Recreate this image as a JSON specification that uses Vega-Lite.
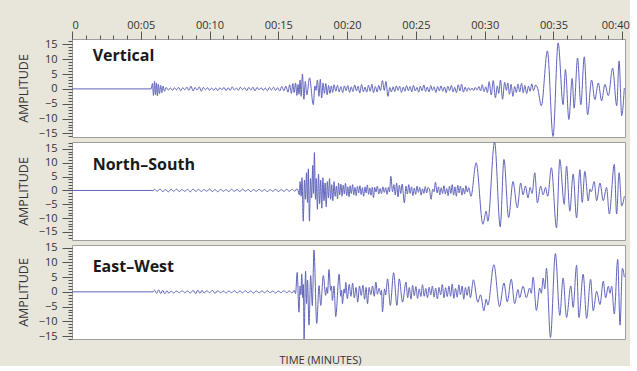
{
"$schema": "https://vega.github.io/schema/vega-lite/v6.json",
"background": "#e8e5da",
"padding": {"left": 16, "top": 18, "right": 0, "bottom": 0},
"config": {
  "view": {"stroke": "#9e9e9e", "fill": "white"},
  "font": "Open Sans",
  "axis": {"labelFont": "Open Sans", "titleFont": "Open Sans", "labelColor": "#333333", "titleColor": "#333333", "tickColor": "#555555", "grid": false, "domain": false}
},
"datasets": {
"vert": [
{"t":0,"a":0},{"t":5.75,"a":0},{"t":5.85,"a":1.8},{"t":5.92,"a":-2.2},{"t":6.0,"a":2.5},{"t":6.07,"a":-1.9},{"t":6.14,"a":2.0},{"t":6.21,"a":-2.4},{"t":6.28,"a":1.5},{"t":6.36,"a":-1.6},{"t":6.45,"a":1.2},{"t":6.53,"a":-1.3},{"t":6.62,"a":0.9},{"t":6.72,"a":-0.8},{"t":6.85,"a":0.5},{"t":7.0,"a":-0.4},{"t":7.15,"a":0.3},{"t":7.3,"a":-0.5},{"t":7.45,"a":0.4},{"t":7.6,"a":-0.3},{"t":7.75,"a":0.5},{"t":7.9,"a":-0.6},{"t":8.05,"a":0.4},{"t":8.2,"a":-0.3},{"t":8.35,"a":0.6},{"t":8.5,"a":-0.5},{"t":8.65,"a":0.9},{"t":8.8,"a":-0.7},{"t":8.95,"a":0.5},{"t":9.1,"a":-0.4},{"t":9.25,"a":0.7},{"t":9.4,"a":-0.8},{"t":9.55,"a":0.5},{"t":9.7,"a":-0.3},{"t":9.85,"a":0.4},{"t":10.0,"a":-0.5},{"t":10.15,"a":0.3},{"t":10.3,"a":-0.4},{"t":10.45,"a":0.3},{"t":10.6,"a":-0.6},{"t":10.75,"a":0.4},{"t":10.9,"a":-0.3},{"t":11.05,"a":0.5},{"t":11.2,"a":-0.6},{"t":11.35,"a":0.4},{"t":11.5,"a":-0.5},{"t":11.65,"a":0.7},{"t":11.8,"a":-0.4},{"t":11.95,"a":0.3},{"t":12.1,"a":-0.5},{"t":12.25,"a":0.6},{"t":12.4,"a":-0.3},{"t":12.55,"a":0.4},{"t":12.7,"a":-0.6},{"t":12.85,"a":0.5},{"t":13.0,"a":-0.4},{"t":13.15,"a":0.6},{"t":13.3,"a":-0.7},{"t":13.45,"a":0.5},{"t":13.6,"a":-0.3},{"t":13.75,"a":0.4},{"t":13.9,"a":-0.5},{"t":14.05,"a":0.3},{"t":14.2,"a":-0.6},{"t":14.35,"a":0.5},{"t":14.5,"a":-0.4},{"t":14.65,"a":0.6},{"t":14.8,"a":-0.5},{"t":14.95,"a":0.4},{"t":15.1,"a":-0.7},{"t":15.25,"a":0.8},{"t":15.4,"a":-0.6},{"t":15.55,"a":0.9},{"t":15.7,"a":-1.1},{"t":15.82,"a":1.4},{"t":15.95,"a":-1.5},{"t":16.05,"a":1.8},{"t":16.15,"a":-1.2},{"t":16.25,"a":2.0},{"t":16.35,"a":-2.2},{"t":16.43,"a":1.5},{"t":16.5,"a":-1.8},{"t":16.58,"a":3.0},{"t":16.66,"a":-2.5},{"t":16.75,"a":5.0},{"t":16.86,"a":-3.5},{"t":16.96,"a":2.5},{"t":17.07,"a":-2.0},{"t":17.27,"a":3.7},{"t":17.54,"a":-5.3},{"t":17.66,"a":1.0},{"t":17.74,"a":-0.5},{"t":17.84,"a":3.0},{"t":17.95,"a":-2.5},{"t":18.05,"a":3.2},{"t":18.15,"a":-3.0},{"t":18.25,"a":2.0},{"t":18.35,"a":-1.5},{"t":18.45,"a":1.8},{"t":18.55,"a":-2.0},{"t":18.65,"a":1.2},{"t":18.75,"a":-1.5},{"t":18.85,"a":1.0},{"t":18.95,"a":-1.2},{"t":19.05,"a":1.4},{"t":19.18,"a":-0.8},{"t":19.3,"a":1.2},{"t":19.42,"a":-1.0},{"t":19.55,"a":0.8},{"t":19.68,"a":-1.3},{"t":19.8,"a":1.0},{"t":19.92,"a":-0.6},{"t":20.05,"a":1.1},{"t":20.18,"a":-1.2},{"t":20.3,"a":0.7},{"t":20.42,"a":-0.9},{"t":20.55,"a":1.3},{"t":20.68,"a":-0.7},{"t":20.8,"a":0.9},{"t":20.92,"a":-1.4},{"t":21.05,"a":1.5},{"t":21.18,"a":-1.0},{"t":21.3,"a":0.6},{"t":21.42,"a":-1.1},{"t":21.55,"a":1.2},{"t":21.68,"a":-0.8},{"t":21.8,"a":1.6},{"t":21.92,"a":-1.3},{"t":22.05,"a":0.8},{"t":22.18,"a":-1.0},{"t":22.3,"a":1.2},{"t":22.42,"a":-0.6},{"t":22.57,"a":2.8},{"t":22.7,"a":-0.5},{"t":22.82,"a":2.5},{"t":22.97,"a":-2.5},{"t":23.1,"a":0.5},{"t":23.22,"a":-1.0},{"t":23.34,"a":0.7},{"t":23.46,"a":-0.9},{"t":23.58,"a":1.0},{"t":23.7,"a":-0.5},{"t":23.82,"a":0.9},{"t":23.95,"a":-1.2},{"t":24.08,"a":0.6},{"t":24.2,"a":-0.8},{"t":24.32,"a":1.1},{"t":24.45,"a":-0.6},{"t":24.58,"a":0.8},{"t":24.7,"a":-1.0},{"t":24.82,"a":1.2},{"t":24.95,"a":-0.7},{"t":25.08,"a":0.5},{"t":25.2,"a":-1.1},{"t":25.32,"a":0.9},{"t":25.45,"a":-0.6},{"t":25.58,"a":1.3},{"t":25.7,"a":-0.9},{"t":25.82,"a":0.6},{"t":25.95,"a":-1.0},{"t":26.08,"a":1.1},{"t":26.2,"a":-0.5},{"t":26.32,"a":0.7},{"t":26.45,"a":-1.2},{"t":26.58,"a":0.8},{"t":26.7,"a":-0.6},{"t":26.82,"a":1.0},{"t":26.95,"a":-0.8},{"t":27.08,"a":0.6},{"t":27.2,"a":-1.3},{"t":27.32,"a":0.9},{"t":27.45,"a":-0.6},{"t":27.58,"a":1.2},{"t":27.7,"a":-1.0},{"t":27.82,"a":0.5},{"t":27.95,"a":-1.3},{"t":28.08,"a":1.4},{"t":28.2,"a":-0.7},{"t":28.32,"a":1.6},{"t":28.45,"a":-1.1},{"t":28.58,"a":0.6},{"t":28.7,"a":-0.8},{"t":28.82,"a":0.4},{"t":28.95,"a":-0.5},{"t":29.08,"a":0.3},{"t":29.2,"a":-0.6},{"t":29.32,"a":0.5},{"t":29.45,"a":-0.4},{"t":29.58,"a":0.8},{"t":29.7,"a":-0.7},{"t":29.82,"a":1.4},{"t":29.95,"a":-0.9},{"t":30.08,"a":0.7},{"t":30.2,"a":-1.2},{"t":30.32,"a":2.4},{"t":30.48,"a":-2.0},{"t":30.62,"a":2.8},{"t":30.78,"a":-3.0},{"t":30.92,"a":1.0},{"t":31.02,"a":-1.5},{"t":31.15,"a":3.0},{"t":31.3,"a":-3.5},{"t":31.45,"a":2.2},{"t":31.58,"a":-0.5},{"t":31.68,"a":2.0},{"t":31.8,"a":-1.8},{"t":31.92,"a":1.5},{"t":32.05,"a":-2.5},{"t":32.18,"a":0.8},{"t":32.3,"a":-1.2},{"t":32.42,"a":1.6},{"t":32.55,"a":-1.0},{"t":32.68,"a":1.9},{"t":32.8,"a":-1.3},{"t":32.92,"a":1.2},{"t":33.05,"a":-1.6},{"t":33.18,"a":0.9},{"t":33.3,"a":-0.8},{"t":33.42,"a":1.7},{"t":33.55,"a":-0.6},{"t":33.7,"a":1.3},{"t":33.85,"a":0.2},{"t":34.12,"a":-5.7},{"t":34.56,"a":12.8},{"t":34.97,"a":-16.0},{"t":35.34,"a":15.5},{"t":35.7,"a":-5.3},{"t":35.87,"a":6.5},{"t":36.12,"a":-10.3},{"t":36.36,"a":3.5},{"t":36.5,"a":-6.5},{"t":36.75,"a":10.4},{"t":36.99,"a":-5.3},{"t":37.24,"a":10.8},{"t":37.48,"a":-8.7},{"t":37.77,"a":3.0},{"t":38.01,"a":-3.6},{"t":38.26,"a":2.0},{"t":38.5,"a":-4.0},{"t":38.74,"a":1.5},{"t":38.99,"a":-2.3},{"t":39.3,"a":7.0},{"t":39.6,"a":-5.7},{"t":39.77,"a":9.4},{"t":39.96,"a":-9.0},{"t":40.15,"a":0.3}
],
"ns": [
{"t":0,"a":0},{"t":5.9,"a":0},{"t":6.0,"a":0.4},{"t":6.2,"a":-0.3},{"t":6.4,"a":0.5},{"t":6.6,"a":-0.4},{"t":6.8,"a":0.3},{"t":7.0,"a":-0.5},{"t":7.2,"a":0.4},{"t":7.4,"a":-0.3},{"t":7.6,"a":0.5},{"t":7.8,"a":-0.4},{"t":8.0,"a":0.3},{"t":8.2,"a":-0.3},{"t":8.4,"a":0.4},{"t":8.6,"a":-0.5},{"t":8.8,"a":0.5},{"t":9.0,"a":-0.3},{"t":9.2,"a":0.4},{"t":9.4,"a":-0.4},{"t":9.6,"a":0.3},{"t":9.8,"a":-0.3},{"t":10.0,"a":0.5},{"t":10.2,"a":-0.4},{"t":10.4,"a":0.3},{"t":10.6,"a":-0.5},{"t":10.8,"a":0.4},{"t":11.0,"a":-0.3},{"t":11.2,"a":0.3},{"t":11.4,"a":-0.4},{"t":11.6,"a":0.4},{"t":11.8,"a":-0.3},{"t":12.0,"a":0.3},{"t":12.2,"a":-0.4},{"t":12.4,"a":0.5},{"t":12.6,"a":-0.3},{"t":12.8,"a":0.3},{"t":13.0,"a":-0.4},{"t":13.2,"a":0.3},{"t":13.4,"a":-0.3},{"t":13.6,"a":0.4},{"t":13.8,"a":-0.3},{"t":14.0,"a":0.3},{"t":14.2,"a":-0.4},{"t":14.4,"a":0.3},{"t":14.6,"a":-0.3},{"t":14.8,"a":0.4},{"t":15.0,"a":-0.4},{"t":15.2,"a":0.3},{"t":15.4,"a":-0.3},{"t":15.6,"a":0.4},{"t":15.8,"a":-0.3},{"t":16.0,"a":0.4},{"t":16.2,"a":-0.3},{"t":16.35,"a":0.6},{"t":16.45,"a":-0.2},{"t":16.52,"a":-1.6},{"t":16.58,"a":3.2},{"t":16.66,"a":-2.1},{"t":16.72,"a":4.6},{"t":16.81,"a":-11.1},{"t":16.9,"a":3.7},{"t":16.97,"a":-3.2},{"t":17.05,"a":6.4},{"t":17.12,"a":-4.3},{"t":17.18,"a":7.8},{"t":17.26,"a":-11.1},{"t":17.34,"a":4.3},{"t":17.42,"a":-2.7},{"t":17.5,"a":9.0},{"t":17.56,"a":-1.1},{"t":17.62,"a":13.7},{"t":17.7,"a":-3.2},{"t":17.76,"a":4.3},{"t":17.84,"a":-6.8},{"t":17.92,"a":5.9},{"t":18.0,"a":-4.8},{"t":18.08,"a":3.7},{"t":18.16,"a":-6.4},{"t":18.24,"a":4.6},{"t":18.32,"a":-3.7},{"t":18.4,"a":2.7},{"t":18.48,"a":-5.9},{"t":18.56,"a":3.2},{"t":18.64,"a":-2.7},{"t":18.72,"a":4.3},{"t":18.8,"a":-3.2},{"t":18.88,"a":2.1},{"t":18.96,"a":-3.7},{"t":19.05,"a":3.2},{"t":19.13,"a":-2.1},{"t":19.22,"a":1.6},{"t":19.3,"a":-3.0},{"t":19.38,"a":2.7},{"t":19.46,"a":-1.6},{"t":19.55,"a":2.3},{"t":19.63,"a":-2.1},{"t":19.72,"a":1.9},{"t":19.8,"a":-1.3},{"t":19.88,"a":2.6},{"t":19.97,"a":-1.9},{"t":20.05,"a":1.3},{"t":20.14,"a":-2.3},{"t":20.22,"a":1.7},{"t":20.3,"a":-1.1},{"t":20.4,"a":2.1},{"t":20.48,"a":-1.6},{"t":20.57,"a":1.1},{"t":20.66,"a":-1.9},{"t":20.75,"a":1.5},{"t":20.84,"a":-0.9},{"t":20.93,"a":1.7},{"t":21.02,"a":-1.5},{"t":21.11,"a":1.0},{"t":21.2,"a":-2.1},{"t":21.3,"a":1.3},{"t":21.38,"a":-0.9},{"t":21.47,"a":2.0},{"t":21.56,"a":-1.4},{"t":21.65,"a":0.9},{"t":21.74,"a":-1.7},{"t":21.83,"a":1.2},{"t":21.92,"a":-2.6},{"t":22.01,"a":1.1},{"t":22.1,"a":-0.6},{"t":22.2,"a":1.6},{"t":22.3,"a":-1.3},{"t":22.4,"a":0.7},{"t":22.5,"a":-1.1},{"t":22.6,"a":1.3},{"t":22.7,"a":-0.7},{"t":22.8,"a":1.0},{"t":22.9,"a":-1.4},{"t":23.0,"a":1.1},{"t":23.08,"a":-0.5},{"t":23.18,"a":5.1},{"t":23.3,"a":-0.5},{"t":23.4,"a":2.1},{"t":23.5,"a":-1.6},{"t":23.6,"a":2.7},{"t":23.7,"a":-2.3},{"t":23.8,"a":1.9},{"t":23.9,"a":-1.1},{"t":24.0,"a":2.3},{"t":24.16,"a":-4.5},{"t":24.28,"a":1.6},{"t":24.38,"a":-1.3},{"t":24.48,"a":2.1},{"t":24.58,"a":-1.1},{"t":24.68,"a":1.3},{"t":24.78,"a":-1.9},{"t":24.88,"a":0.9},{"t":24.98,"a":-1.4},{"t":25.08,"a":1.6},{"t":25.18,"a":-0.7},{"t":25.28,"a":1.1},{"t":25.38,"a":-1.7},{"t":25.48,"a":0.6},{"t":25.58,"a":-1.1},{"t":25.68,"a":1.4},{"t":25.78,"a":-0.9},{"t":25.88,"a":1.1},{"t":25.98,"a":0.5},{"t":26.1,"a":-3.2},{"t":26.22,"a":0.5},{"t":26.32,"a":-0.5},{"t":26.42,"a":3.0},{"t":26.54,"a":-0.9},{"t":26.64,"a":1.3},{"t":26.74,"a":-1.6},{"t":26.84,"a":1.0},{"t":26.94,"a":-1.1},{"t":27.04,"a":1.7},{"t":27.14,"a":-1.3},{"t":27.24,"a":0.7},{"t":27.34,"a":-1.9},{"t":27.44,"a":1.6},{"t":27.54,"a":-1.1},{"t":27.64,"a":2.1},{"t":27.74,"a":-1.7},{"t":27.84,"a":1.3},{"t":27.94,"a":-2.1},{"t":28.04,"a":1.9},{"t":28.14,"a":-0.9},{"t":28.24,"a":1.6},{"t":28.34,"a":-1.7},{"t":28.44,"a":0.9},{"t":28.54,"a":-1.3},{"t":28.64,"a":1.7},{"t":28.74,"a":-0.6},{"t":28.84,"a":1.0},{"t":29.0,"a":-2.1},{"t":29.38,"a":10.0},{"t":29.87,"a":-12.2},{"t":30.11,"a":-7.5},{"t":30.23,"a":-11.1},{"t":30.72,"a":17.5},{"t":31.13,"a":-13.1},{"t":31.4,"a":11.2},{"t":31.74,"a":-9.8},{"t":32.06,"a":3.2},{"t":32.37,"a":-6.3},{"t":32.62,"a":2.7},{"t":32.79,"a":-1.6},{"t":32.96,"a":1.6},{"t":33.15,"a":-2.7},{"t":33.3,"a":1.1},{"t":33.45,"a":-1.1},{"t":33.64,"a":6.4},{"t":33.83,"a":-4.5},{"t":34.07,"a":1.6},{"t":34.25,"a":-1.6},{"t":34.42,"a":1.1},{"t":34.58,"a":-2.1},{"t":34.85,"a":8.2},{"t":35.22,"a":-13.5},{"t":35.46,"a":11.2},{"t":35.78,"a":-5.0},{"t":35.95,"a":8.8},{"t":36.19,"a":-7.5},{"t":36.43,"a":5.9},{"t":36.68,"a":-9.9},{"t":36.92,"a":7.5},{"t":37.09,"a":-4.3},{"t":37.28,"a":6.9},{"t":37.53,"a":-3.8},{"t":37.65,"a":0.5},{"t":37.75,"a":-0.5},{"t":37.96,"a":3.2},{"t":38.14,"a":-3.7},{"t":38.38,"a":2.7},{"t":38.62,"a":-3.7},{"t":38.86,"a":1.1},{"t":39.06,"a":-8.5},{"t":39.42,"a":9.4},{"t":39.59,"a":-8.5},{"t":39.77,"a":6.4},{"t":39.96,"a":-5.6},{"t":40.15,"a":-2.1}
],
"ew": [
{"t":0,"a":0},{"t":5.9,"a":0},{"t":6.0,"a":0.6},{"t":6.15,"a":-0.5},{"t":6.3,"a":0.7},{"t":6.45,"a":-0.6},{"t":6.6,"a":0.5},{"t":6.75,"a":-0.7},{"t":6.9,"a":0.4},{"t":7.05,"a":-0.5},{"t":7.2,"a":0.3},{"t":7.4,"a":-0.4},{"t":7.6,"a":0.3},{"t":7.8,"a":-0.3},{"t":8.0,"a":0.4},{"t":8.2,"a":-0.3},{"t":8.4,"a":0.3},{"t":8.6,"a":-0.4},{"t":8.8,"a":0.5},{"t":9.0,"a":-0.6},{"t":9.15,"a":0.6},{"t":9.3,"a":-0.5},{"t":9.45,"a":0.5},{"t":9.6,"a":-0.4},{"t":9.8,"a":0.4},{"t":10.0,"a":-0.3},{"t":10.2,"a":0.5},{"t":10.4,"a":-0.5},{"t":10.6,"a":0.4},{"t":10.8,"a":-0.3},{"t":11.0,"a":0.3},{"t":11.2,"a":-0.4},{"t":11.4,"a":0.3},{"t":11.6,"a":-0.3},{"t":11.8,"a":0.4},{"t":12.0,"a":-0.4},{"t":12.2,"a":0.3},{"t":12.4,"a":-0.3},{"t":12.6,"a":0.4},{"t":12.8,"a":-0.3},{"t":13.0,"a":0.3},{"t":13.2,"a":-0.4},{"t":13.4,"a":0.3},{"t":13.6,"a":-0.3},{"t":13.8,"a":0.3},{"t":14.0,"a":-0.3},{"t":14.2,"a":0.4},{"t":14.4,"a":-0.3},{"t":14.6,"a":0.3},{"t":14.8,"a":-0.4},{"t":15.0,"a":0.3},{"t":15.2,"a":-0.3},{"t":15.4,"a":0.4},{"t":15.6,"a":-0.3},{"t":15.8,"a":0.3},{"t":16.0,"a":-0.4},{"t":16.15,"a":0.5},{"t":16.25,"a":-0.6},{"t":16.37,"a":6.6},{"t":16.5,"a":-6.9},{"t":16.58,"a":2.0},{"t":16.64,"a":-1.0},{"t":16.7,"a":6.0},{"t":16.78,"a":-2.0},{"t":16.82,"a":2.5},{"t":16.87,"a":-16.0},{"t":16.98,"a":7.0},{"t":17.05,"a":-4.0},{"t":17.12,"a":4.0},{"t":17.23,"a":-11.3},{"t":17.35,"a":5.5},{"t":17.47,"a":-4.7},{"t":17.59,"a":14.2},{"t":17.79,"a":-10.7},{"t":17.96,"a":2.1},{"t":18.08,"a":-4.6},{"t":18.27,"a":5.5},{"t":18.44,"a":-1.2},{"t":18.52,"a":1.5},{"t":18.58,"a":-0.5},{"t":18.68,"a":7.6},{"t":18.8,"a":0.5},{"t":18.86,"a":2.0},{"t":18.93,"a":-2.9},{"t":19.05,"a":2.0},{"t":19.17,"a":-8.4},{"t":19.42,"a":6.0},{"t":19.54,"a":-1.5},{"t":19.6,"a":0.5},{"t":19.66,"a":-4.0},{"t":19.78,"a":1.0},{"t":19.84,"a":-0.5},{"t":19.9,"a":3.2},{"t":20.02,"a":-2.3},{"t":20.15,"a":2.5},{"t":20.28,"a":-1.5},{"t":20.4,"a":3.0},{"t":20.52,"a":-2.0},{"t":20.65,"a":1.5},{"t":20.77,"a":-3.5},{"t":20.9,"a":2.0},{"t":21.02,"a":-1.2},{"t":21.15,"a":2.2},{"t":21.27,"a":-2.5},{"t":21.38,"a":1.5},{"t":21.48,"a":-4.0},{"t":21.6,"a":1.5},{"t":21.72,"a":-1.0},{"t":21.85,"a":2.0},{"t":21.97,"a":-1.5},{"t":22.09,"a":3.3},{"t":22.2,"a":-0.8},{"t":22.32,"a":1.2},{"t":22.45,"a":-1.0},{"t":22.5,"a":0.5},{"t":22.57,"a":-6.8},{"t":22.72,"a":1.0},{"t":22.8,"a":-1.0},{"t":22.94,"a":4.4},{"t":23.14,"a":-4.6},{"t":23.38,"a":6.5},{"t":23.62,"a":-4.6},{"t":23.79,"a":4.4},{"t":24.03,"a":-3.5},{"t":24.28,"a":3.3},{"t":24.4,"a":-2.0},{"t":24.52,"a":1.5},{"t":24.64,"a":-2.5},{"t":24.76,"a":2.2},{"t":24.88,"a":-1.3},{"t":25.0,"a":1.8},{"t":25.12,"a":-2.2},{"t":25.24,"a":1.0},{"t":25.36,"a":-1.6},{"t":25.48,"a":2.4},{"t":25.6,"a":-1.5},{"t":25.72,"a":1.2},{"t":25.84,"a":-2.0},{"t":25.96,"a":1.6},{"t":26.08,"a":-1.0},{"t":26.2,"a":2.0},{"t":26.32,"a":-1.8},{"t":26.44,"a":1.3},{"t":26.56,"a":-2.4},{"t":26.68,"a":1.5},{"t":26.8,"a":-1.0},{"t":26.92,"a":2.5},{"t":27.04,"a":-2.0},{"t":27.16,"a":1.4},{"t":27.28,"a":-1.6},{"t":27.4,"a":2.0},{"t":27.52,"a":-1.5},{"t":27.64,"a":2.6},{"t":27.76,"a":-2.2},{"t":27.88,"a":1.2},{"t":28.0,"a":-1.8},{"t":28.12,"a":2.4},{"t":28.24,"a":-1.0},{"t":28.36,"a":2.0},{"t":28.48,"a":-2.5},{"t":28.6,"a":1.5},{"t":28.72,"a":-1.2},{"t":28.84,"a":1.8},{"t":28.96,"a":-2.0},{"t":29.18,"a":4.1},{"t":29.5,"a":-3.5},{"t":29.7,"a":-1.0},{"t":29.94,"a":-6.4},{"t":30.11,"a":-2.5},{"t":30.23,"a":-4.5},{"t":30.67,"a":9.2},{"t":31.08,"a":-5.0},{"t":31.4,"a":3.0},{"t":31.64,"a":-3.4},{"t":31.93,"a":4.3},{"t":32.18,"a":-4.0},{"t":32.42,"a":0.8},{"t":32.54,"a":-2.0},{"t":32.79,"a":1.9},{"t":33.03,"a":-2.0},{"t":33.27,"a":1.3},{"t":33.39,"a":-0.5},{"t":33.52,"a":5.0},{"t":33.76,"a":-6.3},{"t":34.0,"a":1.3},{"t":34.12,"a":-0.5},{"t":34.25,"a":4.7},{"t":34.37,"a":1.0},{"t":34.49,"a":8.0},{"t":34.78,"a":-15.5},{"t":35.14,"a":13.0},{"t":35.46,"a":-8.0},{"t":35.7,"a":4.7},{"t":35.95,"a":-8.7},{"t":36.26,"a":2.0},{"t":36.43,"a":-5.3},{"t":36.68,"a":9.0},{"t":36.85,"a":-8.7},{"t":37.16,"a":6.0},{"t":37.41,"a":-9.0},{"t":37.7,"a":4.3},{"t":37.89,"a":-6.4},{"t":38.14,"a":0.2},{"t":38.38,"a":-4.3},{"t":38.62,"a":3.6},{"t":38.79,"a":-2.0},{"t":38.99,"a":1.9},{"t":39.11,"a":-0.5},{"t":39.23,"a":1.9},{"t":39.42,"a":-7.5},{"t":39.67,"a":11.0},{"t":39.84,"a":-11.3},{"t":40.01,"a":8.0},{"t":40.15,"a":5.0}
]
},
"spacing": 5,
"bounds": "flush",
"vconcat": [
{
  "width": 553, "height": 98,
  "layer": [
    {
      "data": {"name": "vert"},
      "mark": {"type": "line", "color": "#6064bb", "strokeWidth": 1, "interpolate": "monotone", "clip": true},
      "encoding": {
        "x": {"field": "t", "type": "quantitative", "scale": {"domain": [0, 40.2], "nice": false, "zero": false},
              "axis": {"orient": "top", "values": [0,5,10,15,20,25,30,35,40], "labelExpr": "datum.value == 0 ? '0' : '00:' + (datum.value < 10 ? '0' : '') + datum.value", "labelOffset": {"condition": {"test": "datum.value == 40", "value": -7}, "value": 0}, "tickSize": 8, "labelPadding": 1, "labelFontSize": 11, "title": null}},
        "y": {"field": "a", "type": "quantitative", "scale": {"domain": [-16.2, 16.8], "nice": false, "zero": false},
              "axis": {"orient": "left", "values": [-15,-10,-5,0,5,10,15], "tickSize": 10, "labelPadding": 5, "labelFontSize": 11, "title": "AMPLITUDE", "titleFontSize": 12.5, "titleFontWeight": "normal", "titlePadding": 8}}
      }
    },
    {
      "data": {"values": [{}]},
      "mark": {"type": "text", "text": "Vertical", "align": "left", "baseline": "alphabetic", "font": "Open Sans", "fontSize": 16, "fontWeight": "bold", "color": "#1a1a1a"},
      "encoding": {
        "x": {"datum": 1.5, "type": "quantitative", "axis": {"orient": "top", "values": [0,1,2,3,4,5,6,7,8,9,10,11,12,13,14,15,16,17,18,19,20,21,22,23,24,25,26,27,28,29,30,31,32,33,34,35,36,37,38,39,40], "labels": false, "tickSize": 4, "title": null}},
        "y": {"datum": 9.4, "type": "quantitative", "axis": {"orient": "left", "values": [-16,-15,-14,-13,-12,-11,-10,-9,-8,-7,-6,-5,-4,-3,-2,-1,0,1,2,3,4,5,6,7,8,9,10,11,12,13,14,15,16], "labels": false, "tickSize": 4, "title": null}}
      }
    }
  ],
  "resolve": {"axis": {"x": "independent", "y": "independent"}}
},
{
  "width": 553, "height": 98,
  "layer": [
    {
      "data": {"name": "ns"},
      "mark": {"type": "line", "color": "#6064bb", "strokeWidth": 1, "interpolate": "monotone", "clip": true},
      "encoding": {
        "x": {"field": "t", "type": "quantitative", "scale": {"domain": [0, 40.2], "nice": false, "zero": false}, "axis": null},
        "y": {"field": "a", "type": "quantitative", "scale": {"domain": [-17.9, 17.5], "nice": false, "zero": false},
              "axis": {"orient": "left", "values": [-15,-10,-5,0,5,10,15], "tickSize": 10, "labelPadding": 5, "labelFontSize": 11, "title": "AMPLITUDE", "titleFontSize": 12.5, "titleFontWeight": "normal", "titlePadding": 8}}
      }
    },
    {
      "data": {"values": [{}]},
      "mark": {"type": "text", "text": "North–South", "align": "left", "baseline": "alphabetic", "font": "Open Sans", "fontSize": 16, "fontWeight": "bold", "color": "#1a1a1a"},
      "encoding": {
        "x": {"datum": 1.5, "type": "quantitative", "axis": null},
        "y": {"datum": 7.4, "type": "quantitative", "axis": {"orient": "left", "values": [-17,-16,-15,-14,-13,-12,-11,-10,-9,-8,-7,-6,-5,-4,-3,-2,-1,0,1,2,3,4,5,6,7,8,9,10,11,12,13,14,15,16,17], "labels": false, "tickSize": 4, "title": null}}
      }
    }
  ],
  "resolve": {"axis": {"x": "independent", "y": "independent"}}
},
{
  "width": 553, "height": 94,
  "layer": [
    {
      "data": {"name": "ew"},
      "mark": {"type": "line", "color": "#6064bb", "strokeWidth": 1, "interpolate": "monotone", "clip": true},
      "encoding": {
        "x": {"field": "t", "type": "quantitative", "scale": {"domain": [0, 40.2], "nice": false, "zero": false},
              "axis": {"orient": "bottom", "labels": false, "ticks": false, "title": "TIME (MINUTES)", "titleX": 248, "titlePadding": 15, "titleFontSize": 11, "titleFontWeight": "normal"}},
        "y": {"field": "a", "type": "quantitative", "scale": {"domain": [-16, 15.9], "nice": false, "zero": false},
              "axis": {"orient": "left", "values": [-15,-10,-5,0,5,10,15], "tickSize": 10, "labelPadding": 5, "labelFontSize": 11, "title": "AMPLITUDE", "titleFontSize": 12.5, "titleFontWeight": "normal", "titlePadding": 8}}
      }
    },
    {
      "data": {"values": [{}]},
      "mark": {"type": "text", "text": "East–West", "align": "left", "baseline": "alphabetic", "font": "Open Sans", "fontSize": 16, "fontWeight": "bold", "color": "#1a1a1a"},
      "encoding": {
        "x": {"datum": 1.5, "type": "quantitative", "axis": null},
        "y": {"datum": 6.8, "type": "quantitative", "axis": {"orient": "left", "values": [-16,-15,-14,-13,-12,-11,-10,-9,-8,-7,-6,-5,-4,-3,-2,-1,0,1,2,3,4,5,6,7,8,9,10,11,12,13,14,15], "labels": false, "tickSize": 4, "title": null}}
      }
    }
  ],
  "resolve": {"axis": {"x": "independent", "y": "independent"}}
}
]
}
